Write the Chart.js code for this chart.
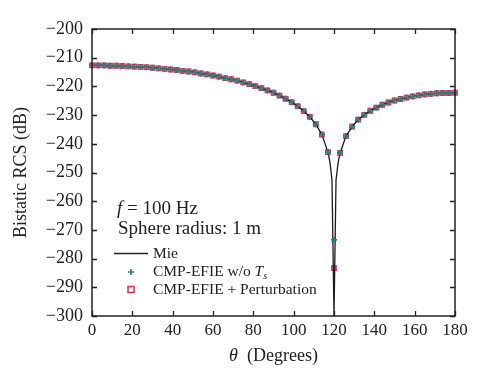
<!DOCTYPE html>
<html>
<head>
<meta charset="utf-8">
<script src="https://cdn.jsdelivr.net/npm/chart.js@4"></script>
<style>
html,body{margin:0;padding:0;background:#fff;}
#wrap{width:477px;height:368px;}
</style>
</head>
<body>
<div id="wrap"><canvas id="c" width="477" height="368"></canvas></div>
<script>
// ---- data ----
const thetaMarkers = [0,3,6,9,12,15,18,21,24,27,30,33,36,39,42,45,48,51,54,57,60,63,66,69,72,75,78,81,84,87,90,93,96,99,102,105,108,111,114,117,120,123,126,129,132,135,138,141,144,147,150,153,156,159,162,165,168,171,174,177,180];
const rcsNoT = [-212.7,-212.7,-212.7,-212.8,-212.8,-212.9,-213.0,-213.1,-213.2,-213.3,-213.5,-213.7,-213.9,-214.1,-214.3,-214.6,-214.8,-215.1,-215.5,-215.8,-216.2,-216.6,-217.1,-217.5,-218.0,-218.6,-219.2,-219.9,-220.6,-221.4,-222.2,-223.2,-224.3,-225.5,-226.9,-228.6,-230.6,-233.2,-236.8,-242.9,-273.5,-243.2,-237.3,-234.0,-231.6,-229.9,-228.5,-227.4,-226.4,-225.6,-224.9,-224.4,-223.9,-223.5,-223.1,-222.8,-222.6,-222.4,-222.3,-222.3,-222.2];
const rcsPert = [-212.7,-212.7,-212.7,-212.8,-212.8,-212.9,-213.0,-213.1,-213.2,-213.3,-213.5,-213.7,-213.9,-214.1,-214.3,-214.6,-214.8,-215.1,-215.5,-215.8,-216.2,-216.6,-217.1,-217.5,-218.0,-218.6,-219.2,-219.9,-220.6,-221.4,-222.2,-223.2,-224.3,-225.5,-226.9,-228.6,-230.6,-233.2,-236.8,-242.9,-283.3,-243.2,-237.3,-234.0,-231.6,-229.9,-228.5,-227.4,-226.4,-225.6,-224.9,-224.4,-223.9,-223.5,-223.1,-222.8,-222.6,-222.4,-222.3,-222.3,-222.2];
const thetaMie = [0,3,6,9,12,15,18,21,24,27,30,33,36,39,42,45,48,51,54,57,60,63,66,69,72,75,78,81,84,87,90,93,96,99,102,105,108,111,114,117,118,119,120,121,122,123,126,129,132,135,138,141,144,147,150,153,156,159,162,165,168,171,174,177,180];
const rcsMie = [-212.7,-212.7,-212.7,-212.8,-212.8,-212.9,-213.0,-213.1,-213.2,-213.3,-213.5,-213.7,-213.9,-214.1,-214.3,-214.6,-214.8,-215.1,-215.5,-215.8,-216.2,-216.6,-217.1,-217.5,-218.0,-218.6,-219.2,-219.9,-220.6,-221.4,-222.2,-223.2,-224.3,-225.5,-226.9,-228.6,-230.6,-233.2,-236.8,-242.9,-246.5,-252.6,-300,-252.7,-246.7,-243.2,-237.3,-234.0,-231.6,-229.9,-228.5,-227.4,-226.4,-225.6,-224.9,-224.4,-223.9,-223.5,-223.1,-222.8,-222.6,-222.4,-222.3,-222.3,-222.2];
const xTicks = [0,20,40,60,80,100,120,140,160,180];
const yTicks = [-300,-290,-280,-270,-260,-250,-240,-230,-220,-210,-200];
const seriesNames = ['Mie','CMP-EFIE w/o T','CMP-EFIE + Perturbation'];

const SERIF = '"Liberation Serif", "Times New Roman", serif';
const GREEN = '#24807a';
const RED = '#e8305e';

function pts(xs, ys){ return xs.map((x,i)=>({x:x, y:ys[i]})); }

const deco = {
  id:'deco',
  afterDraw(chart){
    const ctx = chart.ctx, ca = chart.chartArea;
    const xs = chart.scales.x, ys = chart.scales.y;
    ctx.save();
    ctx.strokeStyle = '#222';
    ctx.lineWidth = 1.3;
    ctx.beginPath();
    xTicks.forEach(v=>{
      const px = Math.round(xs.getPixelForValue(v))+0.5;
      ctx.moveTo(px, ca.bottom); ctx.lineTo(px, ca.bottom-5);
      ctx.moveTo(px, ca.top); ctx.lineTo(px, ca.top+5);
    });
    yTicks.forEach(v=>{
      const py = Math.round(ys.getPixelForValue(v))+0.5;
      ctx.moveTo(ca.left, py); ctx.lineTo(ca.left+5, py);
      ctx.moveTo(ca.right, py); ctx.lineTo(ca.right-5, py);
    });
    ctx.stroke();
    ctx.lineWidth = 1.5;
    ctx.strokeRect(ca.left, ca.top, ca.right-ca.left, ca.bottom-ca.top);

    ctx.fillStyle = '#222';
    ctx.save();
    ctx.translate(21, (ca.top+ca.bottom)/2);
    ctx.rotate(-Math.PI/2);
    ctx.font = '18px ' + SERIF;
    ctx.textAlign = 'center';
    ctx.textBaseline = 'middle';
    ctx.fillText('Bistatic RCS (dB)', 0, 0);
    ctx.restore();

    ctx.textBaseline = 'alphabetic';
    ctx.textAlign = 'left';
    const t1 = '\u03B8';
    ctx.font = '18px ' + SERIF;
    const t2 = '  (Degrees)';
    const w2 = ctx.measureText(t2).width;
    ctx.font = 'italic 18px ' + SERIF;
    const w1 = ctx.measureText(t1).width;
    const cx = (ca.left+ca.right)/2;
    let sx = cx - (w1+w2)/2;
    ctx.fillText(t1, sx, 361);
    ctx.font = '18px ' + SERIF;
    ctx.fillText(t2, sx+w1, 361);

    ctx.font = 'italic 19px ' + SERIF;
    ctx.fillText('f', 117, 214);
    const wf = ctx.measureText('f').width;
    ctx.font = '19px ' + SERIF;
    ctx.fillText(' = 100 Hz', 117+wf, 214);
    ctx.fillText('Sphere radius: 1 m', 118, 234);

    ctx.strokeStyle = '#222';
    ctx.lineWidth = 1.5;
    ctx.beginPath(); ctx.moveTo(114, 253.5); ctx.lineTo(148, 253.5); ctx.stroke();
    ctx.font = '15.5px ' + SERIF;
    ctx.fillText(seriesNames[0], 153, 258);
    ctx.strokeStyle = GREEN; ctx.lineWidth = 1.6;
    ctx.beginPath(); ctx.moveTo(128,272); ctx.lineTo(134,272); ctx.moveTo(131,269); ctx.lineTo(131,275); ctx.stroke();
    ctx.fillText('CMP-EFIE w/o ', 153, 276);
    let wl = ctx.measureText('CMP-EFIE w/o ').width;
    ctx.font = 'italic 15.5px ' + SERIF;
    ctx.fillText('T', 153+wl, 276);
    const wt = ctx.measureText('T').width;
    ctx.font = 'italic 10px ' + SERIF;
    ctx.fillText('s', 153+wl+wt, 279);
    ctx.strokeStyle = RED; ctx.lineWidth = 1.6;
    ctx.strokeRect(128, 286.5, 6, 6);
    ctx.font = '15.5px ' + SERIF;
    ctx.fillText(seriesNames[2], 153, 294);
    ctx.restore();
  }
};

new Chart(document.getElementById('c'), {
  type:'line',
  data:{
    datasets:[
      {label:seriesNames[0], data:pts(thetaMie, rcsMie), borderColor:'#1a1a1a', borderWidth:1.3, pointRadius:0, fill:false, tension:0, order:2},
      {label:seriesNames[1], data:pts(thetaMarkers, rcsNoT), showLine:false, pointStyle:'cross', pointRadius:3, borderColor:GREEN, backgroundColor:GREEN, pointBorderWidth:1.8, clip:false, order:1},
      {label:seriesNames[2], data:pts(thetaMarkers, rcsPert), showLine:false, pointStyle:'rect', pointRadius:3, borderColor:RED, backgroundColor:'rgba(0,0,0,0)', pointBorderWidth:1.6, clip:false, order:3}
    ]
  },
  options:{
    responsive:false,
    animation:false,
    events:[],
    layout:{padding:{left:0, top:29, right:22, bottom:0}},
    plugins:{legend:{display:false}, tooltip:{enabled:false}},
    scales:{
      x:{
        type:'linear', min:0, max:180,
        afterFit(s){ s.height = 52; },
        afterBuildTicks(s){ s.ticks = xTicks.map(v=>({value:v})); },
        grid:{display:false, drawTicks:false},
        border:{display:false},
        ticks:{padding:4, color:'#222', font:{family:SERIF, size:17}, maxRotation:0, autoSkip:false}
      },
      y:{
        type:'linear', min:-300, max:-200,
        afterFit(s){ s.width = 92; },
        afterBuildTicks(s){ s.ticks = yTicks.map(v=>({value:v})); },
        grid:{display:false, drawTicks:false},
        border:{display:false},
        ticks:{padding:9, color:'#222', font:{family:SERIF, size:18}, autoSkip:false,
          callback:(v)=> (v<0 ? '\u2212'+Math.abs(v) : String(v))}
      }
    }
  },
  plugins:[deco]
});
</script>
</body>
</html>
